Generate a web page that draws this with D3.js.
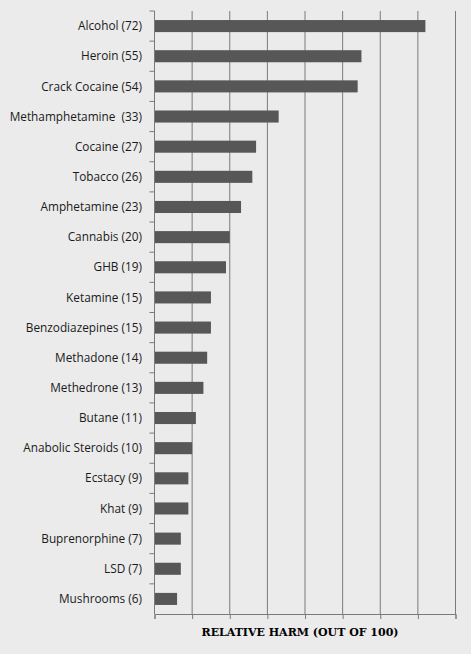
<!DOCTYPE html>
<html>
<head>
<meta charset="utf-8">
<script src="https://cdn.jsdelivr.net/npm/d3@7"></script>
<style>
  html, body { margin: 0; padding: 0; background: #ebebeb; }
  svg { display: block; }
  .label { white-space: pre; }
</style>
</head>
<body>
<svg id="chart"></svg>
<script>
// 数据
var drugs = ['Alcohol', 'Heroin', 'Crack Cocaine', 'Methamphetamine', 'Cocaine', 'Tobacco',
  'Amphetamine', 'Cannabis', 'GHB', 'Ketamine', 'Benzodiazepines', 'Methadone', 'Methedrone',
  'Butane', 'Anabolic Steroids', 'Ecstacy', 'Khat', 'Buprenorphine', 'LSD', 'Mushrooms'];
var harm = [72, 55, 54, 33, 27, 26, 23, 20, 19, 15, 15, 14, 13, 11, 10, 9, 9, 7, 7, 6];
var labels = ['Alcohol (72)', 'Heroin (55)', 'Crack Cocaine (54)', 'Methamphetamine  (33)',
  'Cocaine (27)', 'Tobacco (26)', 'Amphetamine (23)', 'Cannabis (20)', 'GHB (19)', 'Ketamine (15)',
  'Benzodiazepines (15)', 'Methadone (14)', 'Methedrone (13)', 'Butane (11)', 'Anabolic Steroids (10)',
  'Ecstacy (9)', 'Khat (9)', 'Buprenorphine (7)', 'LSD (7)', 'Mushrooms (6)'];
var xTicks = [0, 10, 20, 30, 40, 50, 60, 70, 80];
var axisTitle = 'RELATIVE HARM (OUT OF 100)';

var width = 471, height = 654;
var margin = {top: 11, right: 15.5, bottom: 40, left: 154.5};

var svg = d3.select('#chart').attr('width', width).attr('height', height);
svg.append('rect').attr('width', width).attr('height', height).attr('fill', '#ebebeb');

var x = d3.scaleLinear().domain([0, 80]).range([margin.left, width - margin.right]);
var y = d3.scaleBand().domain(drugs).range([margin.top, height - margin.bottom]).paddingInner(0.6).paddingOuter(0.3);

// 网格线
svg.append('g').selectAll('line')
  .data(xTicks.slice(1))
  .enter()
  .append('line')
  .attr('x1', function (d) { return x(d); })
  .attr('x2', function (d) { return x(d); })
  .attr('y1', margin.top)
  .attr('y2', height - margin.bottom)
  .attr('stroke', '#7a7a7a')
  .attr('stroke-width', 1);

// 柱子
svg.append('g').selectAll('rect')
  .data(harm)
  .enter()
  .append('rect')
  .attr('x', x(0))
  .attr('y', function (d, i) { return y(drugs[i]); })
  .attr('width', function (d) { return x(d) - x(0); })
  .attr('height', y.bandwidth())
  .attr('fill', '#575757');

// x 轴
var xAxis = svg.append('g')
  .attr('transform', 'translate(0,' + (height - margin.bottom) + ')')
  .call(d3.axisBottom(x).tickValues(xTicks).tickSize(5).tickFormat(''));
xAxis.select('.domain').attr('stroke', '#7a7a7a');
xAxis.selectAll('.tick line').attr('stroke', '#7a7a7a');

// y 轴：刻度在类别之间
var step = y.step();
var bounds = d3.range(drugs.length + 1).map(function (i) { return margin.top + i * step; });
var yAxis = svg.append('g');
yAxis.append('line')
  .attr('x1', x(0)).attr('x2', x(0))
  .attr('y1', margin.top).attr('y2', height - margin.bottom)
  .attr('stroke', '#7a7a7a');
yAxis.selectAll('.ytick')
  .data(bounds.slice(0, -1))
  .enter()
  .append('line')
  .attr('x1', x(0) - 5).attr('x2', x(0))
  .attr('y1', function (d) { return d; }).attr('y2', function (d) { return d; })
  .attr('stroke', '#7a7a7a');

// 类别标签
svg.append('g').selectAll('text')
  .data(labels)
  .enter()
  .append('text')
  .attr('class', 'label')
  .attr('x', 142)
  .attr('y', function (d, i) { return y(drugs[i]) + y.bandwidth() / 2; })
  .attr('dy', '0.35em')
  .attr('text-anchor', 'end')
  .attr('font-family', 'Open Sans, sans-serif')
  .attr('font-size', 11.8)
  .attr('fill', '#1a1a1a')
  .text(function (d) { return d; });

// 轴标题
svg.append('text')
  .attr('x', 300)
  .attr('y', 636)
  .attr('text-anchor', 'middle')
  .attr('font-family', 'DejaVu Serif, serif')
  .attr('font-weight', 'bold')
  .attr('font-size', 11.5)
  .attr('textLength', 197)
  .attr('lengthAdjust', 'spacingAndGlyphs')
  .attr('fill', '#000')
  .text(axisTitle);
</script>
</body>
</html>
